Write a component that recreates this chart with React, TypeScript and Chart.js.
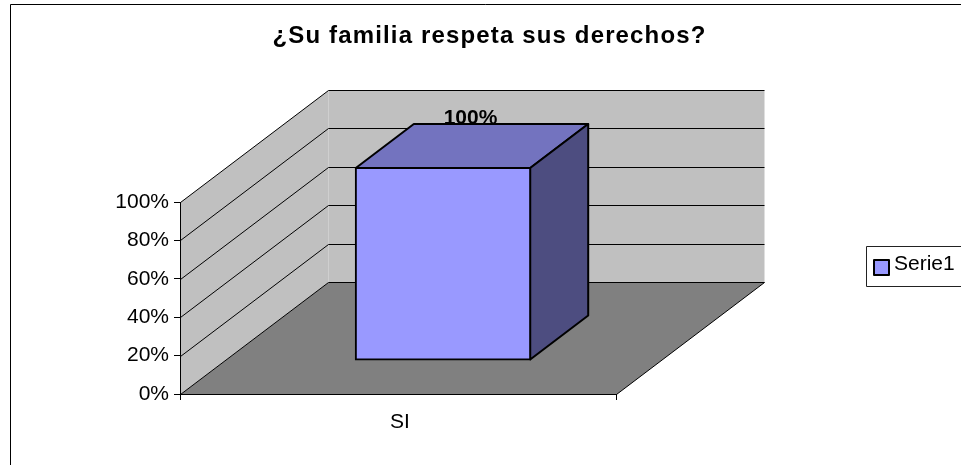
import React, { useEffect, useRef } from "react";
import { Chart, registerables } from "chart.js";

Chart.register(...registerables);

const TITLE = "¿Su familia respeta sus derechos?";
const categories = ["SI"];
const seriesName = "Serie1";
const seriesValues = [100];

const FONT = "'Liberation Sans', Arial, sans-serif";
const DEPTH_X = 148;
const DEPTH_Y = 112;
const BAR_NEAR = 0.304;
const BAR_FAR = 0.696;

const poly = (ctx: CanvasRenderingContext2D, pts: number[][], fill: string | null, stroke: string | null, lw = 1) => {
  ctx.beginPath();
  pts.forEach((p, i) => (i ? ctx.lineTo(p[0], p[1]) : ctx.moveTo(p[0], p[1])));
  ctx.closePath();
  if (fill) {
    ctx.fillStyle = fill;
    ctx.fill();
  }
  if (stroke) {
    ctx.strokeStyle = stroke;
    ctx.lineWidth = lw;
    ctx.lineJoin = "round";
    ctx.stroke();
  }
};

const seg = (ctx: CanvasRenderingContext2D, x0: number, y0: number, x1: number, y1: number) => {
  ctx.beginPath();
  ctx.moveTo(x0, y0);
  ctx.lineTo(x1, y1);
  ctx.strokeStyle = "#000";
  ctx.lineWidth = 1;
  ctx.stroke();
};

const scene3d = {
  id: "scene3d",
  afterLayout(chart: any) {
    const t = chart.titleBlock;
    if (t) {
      t.left = 18;
      t.right = 961;
    }
  },
  beforeDraw(chart: any) {
    const { ctx, chartArea: a, scales } = chart;
    const t = chart.titleBlock;
    if (t && !t.__spaced) {
      t.__spaced = true;
      const d = t.draw.bind(t);
      t.draw = () => {
        ctx.save();
        (ctx as any).letterSpacing = "1.15px";
        d();
        ctx.restore();
      };
    }
    ctx.save();
    // outer frame
    seg(ctx, 10.5, 4.5, 961, 4.5);
    seg(ctx, 10.5, 4.5, 10.5, 465);

    const L = a.left + 0.5;
    const R = a.right + 0.5;
    const T = a.top + 0.5;
    const B = a.bottom + 0.5;
    // left wall, back wall
    poly(ctx, [[L, T], [L + DEPTH_X, T - DEPTH_Y], [L + DEPTH_X, B - DEPTH_Y], [L, B]], "#C0C0C0", null);
    poly(ctx, [[L + DEPTH_X, T - DEPTH_Y], [R + DEPTH_X, T - DEPTH_Y], [R + DEPTH_X, B - DEPTH_Y], [L + DEPTH_X, B - DEPTH_Y]], "#C0C0C0", null);
    // floor
    poly(ctx, [[L, B], [R, B], [R + DEPTH_X, B - DEPTH_Y], [L + DEPTH_X, B - DEPTH_Y]], "#808080", null);
    seg(ctx, R, B, R + DEPTH_X, B - DEPTH_Y);
    // gridlines from the value axis
    scales.y.ticks.forEach((tick: any) => {
      const y = Math.round(scales.y.getPixelForValue(tick.value)) + 0.5;
      seg(ctx, L, y, L + DEPTH_X, y - DEPTH_Y);
      seg(ctx, L + DEPTH_X, y - DEPTH_Y, R + DEPTH_X, y - DEPTH_Y);
    });
    ctx.restore();
  },
  beforeDatasetDraw(chart: any, args: any) {
    const { ctx } = chart;
    const el = args.meta.data[0];
    const half = el.width / 2;
    const nx = DEPTH_X * BAR_NEAR;
    const ny = DEPTH_Y * BAR_NEAR;
    const fx = DEPTH_X * BAR_FAR;
    const fy = DEPTH_Y * BAR_FAR;
    const l = el.x - half;
    const r = el.x + half;
    // top face
    poly(ctx, [[l + nx, el.y - ny], [r + nx, el.y - ny], [r + fx, el.y - fy], [l + fx, el.y - fy]], "#7373BF", "#000", 2);
    // side face
    poly(ctx, [[r + nx, el.y - ny], [r + fx, el.y - fy], [r + fx, el.base - fy], [r + nx, el.base - ny]], "#4D4D80", "#000", 2);
    ctx.save();
    ctx.translate(nx, -ny);
  },
  afterDatasetDraw(chart: any, args: any) {
    const { ctx, data } = chart;
    ctx.restore();
    const el = args.meta.data[0];
    ctx.save();
    ctx.fillStyle = "#000";
    ctx.font = `bold 21px ${FONT}`;
    ctx.textAlign = "center";
    ctx.textBaseline = "alphabetic";
    ctx.fillText(
      `${data.datasets[0].data[0]}%`,
      el.x + (DEPTH_X * (BAR_NEAR + BAR_FAR)) / 2 - 1.5,
      el.y - DEPTH_Y * BAR_FAR
    );
    ctx.restore();
  },
  afterDraw(chart: any) {
    const { ctx, data } = chart;
    const ds = data.datasets[0];
    ctx.save();
    ctx.strokeStyle = "#222";
    ctx.lineWidth = 1;
    ctx.strokeRect(866.5, 246.5, 100, 40);
    ctx.fillStyle = ds.backgroundColor;
    ctx.strokeStyle = "#000";
    ctx.lineWidth = 2;
    ctx.fillRect(874, 260, 15, 15);
    ctx.strokeRect(874, 260, 15, 15);
    ctx.fillStyle = "#000";
    ctx.font = `21px ${FONT}`;
    ctx.textAlign = "left";
    ctx.textBaseline = "middle";
    ctx.fillText(ds.label, 894, 264.5);
    ctx.restore();
  },
};

export default function App() {
  const ref = useRef<HTMLCanvasElement>(null);
  useEffect(() => {
    document.body.style.margin = "0";
    document.body.style.background = "#fff";
    const chart = new Chart(ref.current as HTMLCanvasElement, {
      type: "bar",
      data: {
        labels: categories,
        datasets: [
          {
            label: seriesName,
            data: seriesValues,
            backgroundColor: "#9999FF",
            borderColor: "#000",
            borderWidth: 2,
            borderSkipped: false,
            inflateAmount: 1,
            barPercentage: 0.4,
            categoryPercentage: 1,
            clip: false as any,
          },
        ],
      },
      options: {
        animation: false,
        responsive: false,
        layout: { padding: { left: 0, right: 345, top: 0, bottom: 0 } },
        plugins: {
          legend: { display: false },
          tooltip: { enabled: false },
          title: {
            display: true,
            text: TITLE,
            color: "#000",
            font: { family: FONT, size: 24, weight: "bold", lineHeight: 1 },
            padding: { top: 24, bottom: 154 },
          },
        },
        scales: {
          x: {
            offset: true,
            afterFit: (s: any) => {
              s.height = 71;
            },
            grid: { drawOnChartArea: false, color: "#000", tickLength: 6, offset: true },
            border: { color: "#000", width: 1 },
            ticks: { color: "#000", font: { family: FONT, size: 21 }, padding: 10, labelOffset: 2 },
          },
          y: {
            min: 0,
            max: 100,
            afterFit: (s: any) => {
              s.width = 180;
            },
            grid: { drawOnChartArea: false, color: "#000", tickLength: 6 },
            border: { color: "#000", width: 1 },
            ticks: {
              stepSize: 20,
              color: "#000",
              padding: 5,
              font: { family: FONT, size: 21 },
              callback: (v: any) => `${v}%`,
            },
          },
        },
      },
      plugins: [scene3d],
    });
    return () => chart.destroy();
  }, []);
  return <canvas ref={ref} width={961} height={465} style={{ display: "block" }} />;
}
